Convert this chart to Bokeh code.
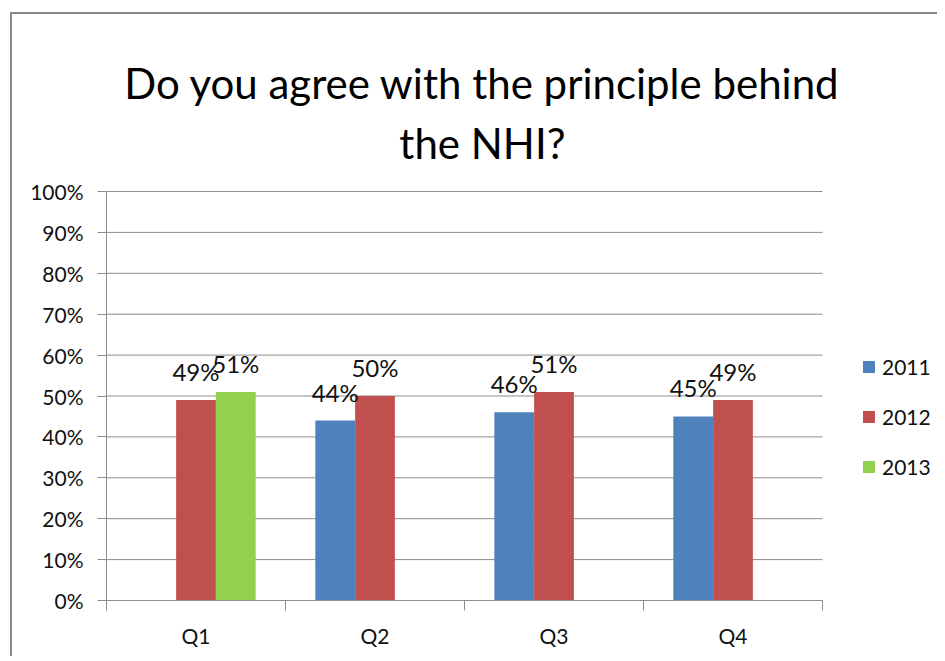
from bokeh.plotting import figure
from bokeh.models import (ColumnDataSource, Range1d, FixedTicker, Label,
                          Legend, LegendItem, LabelSet, NumeralTickFormatter)
from bokeh.core.properties import value
from bokeh.transform import dodge
from bokeh.embed import file_html
from bokeh.resources import INLINE

# ---- data ----
title_lines = ["Do you agree with the principle behind", "the NHI?"]
categories = ["Q1", "Q2", "Q3", "Q4"]
years = ["2011", "2012", "2013"]
share_2011 = [None, 0.44, 0.46, 0.45]
share_2012 = [0.49, 0.50, 0.51, 0.49]
share_2013 = [0.51, None, None, None]
y_ticks = [0.0, 0.1, 0.2, 0.3, 0.4, 0.5, 0.6, 0.7, 0.8, 0.9, 1.0]

series = [share_2011, share_2012, share_2013]
colors = ["#4F81BD", "#C0504D", "#92D050"]
FONT = "Lato"
GRAY = "#8c8c8c"

n_cat = len(categories)
centers = [i + 0.5 for i in range(n_cat)]

# plot area: 409 px per 100%, 179 px per category; the extra space above
# and to the right of the axes holds the title and the legend
PX_PER_UNIT = 409
PX_PER_CAT = 179
FRAME_H = 586
FRAME_W = 831
p = figure(x_range=Range1d(0, FRAME_W / PX_PER_CAT), y_range=Range1d(0, FRAME_H / PX_PER_UNIT),
           frame_width=FRAME_W, frame_height=FRAME_H,
           min_border_left=94, min_border_right=0, min_border_top=0, min_border_bottom=56,
           toolbar_location=None, output_backend="svg")
p.styles = {"position": "relative", "left": "10px", "top": "12px",
            "border-left": "2px solid #8a8a8a", "border-top": "2px solid #8a8a8a"}
p.outline_line_color = None
p.xgrid.visible = False
p.ygrid.visible = False

# horizontal gridlines across the category area only
p.segment(x0=[0] * len(y_ticks), x1=[n_cat] * len(y_ticks), y0=y_ticks, y1=y_ticks,
          line_color=GRAY, line_width=1)

# y axis
ya = p.yaxis[0]
ya.bounds = (y_ticks[0], y_ticks[-1])
ya.ticker = FixedTicker(ticks=y_ticks)
ya.formatter = NumeralTickFormatter(format="0%")
ya.axis_line_color = GRAY
ya.major_tick_line_color = GRAY
ya.major_tick_in = 0
ya.major_tick_out = 9
ya.minor_tick_line_color = None
ya.major_label_standoff = 14
ya.major_label_text_font = FONT
ya.major_label_text_font_size = "21px"
ya.major_label_text_color = "#111111"

# x axis: labels at category centres, ticks at category boundaries
xa = p.xaxis[0]
xa.bounds = (0, n_cat)
xa.ticker = FixedTicker(ticks=centers, minor_ticks=list(range(n_cat + 1)))
xa.major_label_overrides = {c: cat for c, cat in zip(centers, categories)}
xa.axis_line_color = GRAY
xa.major_tick_line_color = None
xa.major_tick_in = 0
xa.major_tick_out = 10
xa.minor_tick_line_color = GRAY
xa.minor_tick_in = 0
xa.minor_tick_out = 10
xa.major_label_standoff = 12
xa.major_label_text_font = FONT
xa.major_label_text_font_size = "21px"
xa.major_label_text_color = "#111111"

# bars
width = 2 / 9
offsets = [-2 / 9, 0, 2 / 9]
items = []
for yr, vals, col, off in zip(years, series, colors, offsets):
    xs = [centers[i] for i, v in enumerate(vals) if v is not None]
    tops = [v for v in vals if v is not None]
    src = ColumnDataSource(dict(x=xs, top=tops, label=[f"{round(v * 100)}%" for v in tops]))
    r = p.vbar(x=dodge("x", off), top="top", width=width, source=src,
               fill_color=col, line_color=None)
    items.append(LegendItem(label=yr, renderers=[r]))
    p.add_layout(LabelSet(x=dodge("x", off), y="top", text="label", source=src,
                          text_align="center", text_baseline="alphabetic", y_offset=19,
                          text_font=value(FONT), text_font_size=value("24px"),
                          text_color="#111111"))

legend = Legend(items=items, location=(755, 121), glyph_width=15, glyph_height=15,
                label_standoff=6, spacing=25, padding=0, margin=0, label_height=20,
                border_line_color=None, background_fill_alpha=0,
                label_text_font=FONT, label_text_font_size="21px", label_text_color="#111111")
p.add_layout(legend)

# title (two lines) in the space above the 100% line
for line, yv in zip(title_lines, [1.2665, 1.1198]):
    p.add_layout(Label(x=2.1, y=yv, text=line, text_align="center", text_baseline="alphabetic",
                       text_font=FONT, text_font_size="42px", text_color="#000000"))

open("out.html", "w").write(file_html(p, INLINE))
